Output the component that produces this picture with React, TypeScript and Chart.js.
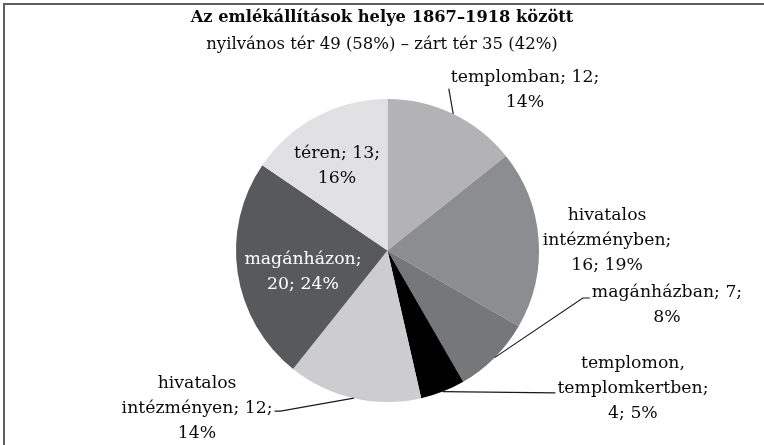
import React, { useEffect, useRef } from "react";
import { Chart, ArcElement, PieController } from "chart.js";

Chart.register(ArcElement, PieController);

const titleText = "Az emlékállítások helye 1867–1918 között";
const subtitleText = "nyilvános tér 49 (58%) – zárt tér 35 (42%)";

const categories = [
  "templomban",
  "hivatalos intézményben",
  "magánházban",
  "templomon, templomkertben",
  "hivatalos intézményen",
  "magánházon",
  "téren",
];
const values = [12, 16, 7, 4, 12, 20, 13];
const percents = [14, 19, 8, 5, 14, 24, 16];
const colors = ["#b3b3b5", "#8b8d90", "#76777a", "#000000", "#cdcdcf", "#58595b", "#e1e1e3"];

// label text wrapping (built from data)
const labelLines: string[][] = [
  [`${categories[0]}; ${values[0]};`, `${percents[0]}%`],
  ["hivatalos", "intézményben;", `${values[1]}; ${percents[1]}%`],
  [`${categories[2]}; ${values[2]};`, `${percents[2]}%`],
  ["templomon,", "templomkertben;", `${values[3]}; ${percents[3]}%`],
  ["hivatalos", `intézményen; ${values[4]};`, `${percents[4]}%`],
  [`${categories[5]};`, `${values[5]}; ${percents[5]}%`],
  [`${categories[6]}; ${values[6]};`, `${percents[6]}%`],
];

type Leader = { line: number; side: "left" | "right"; dy: number; stub: number };
type Spec = { dx: number; dy: number; color: string; leader?: Leader };
const labelSpecs: Spec[] = [
  { dx: 0.908, dy: -1.059, color: "#0a0a0a", leader: { line: 0, side: "left", dy: 11, stub: 0 } },
  { dx: 1.449, dy: -0.069, color: "#0a0a0a" },
  { dx: 1.845, dy: 0.363, color: "#0a0a0a", leader: { line: 0, side: "left", dy: 5, stub: 7 } },
  { dx: 1.62, dy: 0.914, color: "#0a0a0a", leader: { line: 1, side: "left", dy: 4, stub: 0 } },
  { dx: -1.257, dy: 1.04, color: "#0a0a0a", leader: { line: 1, side: "right", dy: 3, stub: 6 } },
  { dx: -0.558, dy: 0.139, color: "#ffffff" },
  { dx: -0.333, dy: -0.561, color: "#0a0a0a" },
];

const FONT = '"DejaVu Serif", Georgia, serif';
const LABEL_SIZE = 17.3;
const LH = 25;

const labelPlugin = {
  id: "customLabels",
  afterDatasetsDraw(chart: any) {
    const ctx: CanvasRenderingContext2D = chart.ctx;
    const meta = chart.getDatasetMeta(0);
    ctx.save();
    ctx.textAlign = "center";
    ctx.textBaseline = "middle";
    ctx.font = `${LABEL_SIZE}px ${FONT}`;
    meta.data.forEach((arc: any, i: number) => {
      const { x, y, outerRadius, startAngle, endAngle } = arc.getProps(
        ["x", "y", "outerRadius", "startAngle", "endAngle"],
        true
      );
      const mid = (startAngle + endAngle) / 2;
      const spec = labelSpecs[i];
      const lines = labelLines[i];
      const cx = x + spec.dx * outerRadius;
      const cy = y + spec.dy * outerRadius;
      const top = cy - ((lines.length - 1) * LH) / 2;
      ctx.fillStyle = spec.color;
      lines.forEach((t, k) => ctx.fillText(t, cx, top + k * LH));
      if (spec.leader) {
        const L = spec.leader;
        const ex = x + Math.cos(mid) * outerRadius;
        const ey = y + Math.sin(mid) * outerRadius;
        const w = ctx.measureText(lines[L.line]).width;
        const ax = L.side === "left" ? cx - w / 2 - 2 : cx + w / 2 + 2;
        const ay = top + L.line * LH + L.dy;
        const sx = L.side === "left" ? ax - L.stub : ax + L.stub;
        ctx.strokeStyle = "#1a1a1a";
        ctx.lineWidth = 1.2;
        ctx.beginPath();
        ctx.moveTo(ex, ey);
        ctx.lineTo(sx, ay);
        ctx.lineTo(ax, ay);
        ctx.stroke();
      }
    });
    // title + subtitle
    const mx = chart.width / 2;
    ctx.fillStyle = "#0a0a0a";
    ctx.font = `bold 16.3px ${FONT}`;
    ctx.fillText(titleText, mx, 18);
    ctx.font = `16.5px ${FONT}`;
    ctx.fillText(subtitleText, mx, 45);
    ctx.restore();
  },
};

export default function App() {
  const ref = useRef<HTMLCanvasElement>(null);
  useEffect(() => {
    if (!ref.current) return;
    const chart = new Chart(ref.current, {
      type: "pie",
      data: {
        labels: categories,
        datasets: [
          {
            data: values,
            backgroundColor: colors,
            borderWidth: 0,
          },
        ],
      },
      options: {
        responsive: false,
        animation: false,
        devicePixelRatio: 1,
        layout: { padding: { top: 99, bottom: 43, left: 236, right: 225 } },
        plugins: { legend: { display: false }, tooltip: { enabled: false } },
      },
      plugins: [labelPlugin],
    } as any);
    return () => chart.destroy();
  }, []);
  return (
    <div style={{ position: "fixed", left: 0, top: 0, width: 764, height: 445, overflow: "hidden", background: "#fff" }}>
      <div
        style={{
          position: "absolute",
          left: 3,
          top: 3,
          width: 780,
          height: 460,
          border: "2px solid #5e5e5e",
          boxSizing: "border-box",
        }}
      />
      <canvas ref={ref} width={764} height={445} style={{ position: "absolute", left: 0, top: 0 }} />
    </div>
  );
}
